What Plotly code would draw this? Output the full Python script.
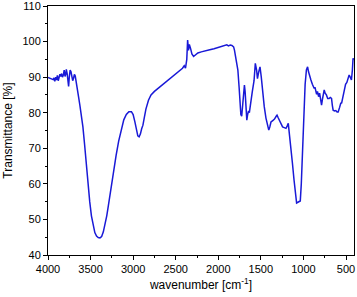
import plotly.graph_objects as go

wavenumber = [4000,3980,3960,3940,3930,3920,3910,3900,3890,3880,3870,3860,3850,3840,3830,3820,3810,3800,3790,3785,3775,3765,3758,3750,3740,3730,3720,3710,3700,3690,3680,3670,3660,3650,3640,3625,3610,3590,3570,3550,3530,3510,3490,3470,3450,3430,3410,3390,3370,3350,3330,3310,3290,3270,3250,3230,3200,3170,3140,3110,3080,3050,3020,3000,2980,2960,2945,2930,2915,2900,2885,2870,2850,2820,2790,2750,2700,2650,2600,2550,2500,2450,2420,2400,2385,2370,2360,2350,2340,2325,2310,2290,2270,2240,2200,2150,2100,2050,2000,1950,1920,1900,1880,1860,1840,1820,1810,1790,1770,1755,1745,1735,1725,1715,1700,1693,1685,1675,1665,1655,1645,1635,1620,1600,1580,1565,1550,1540,1525,1510,1495,1480,1460,1440,1420,1407,1395,1381,1360,1340,1320,1310,1295,1275,1260,1245,1225,1205,1190,1178,1165,1150,1130,1110,1095,1080,1060,1037,1025,1010,995,980,965,951,940,925,912,895,880,873,865,855,845,835,822,810,800,787,775,765,756,745,730,715,698,685,670,660,651,635,620,605,592,575,560,552,540,522,505,490,475,463,450,436,425,417,410,406]

transmittance = [89.9,89.8,89.5,89.3,89.8,88.8,90.0,89.2,90.5,89.0,89.8,90.8,90.2,91.0,90.0,90.6,92.0,90.2,91.0,92.2,91.0,89.5,87.4,90.0,92.0,91.5,90.0,89.0,89.7,90.8,90.3,88.5,87.0,85.5,84.3,82.0,79.8,76.0,71.0,65.0,59.5,55.0,51.0,48.0,46.3,45.3,44.9,44.8,45.2,46.5,48.5,51.0,54.0,57.3,60.8,64.0,68.0,72.0,75.5,78.0,79.5,80.3,80.3,79.5,77.5,75.0,73.5,73.2,74.0,75.5,76.5,78.5,81.0,83.5,85.0,86.0,87.0,88.0,89.0,90.0,90.8,91.8,92.5,93.2,92.5,95.0,100.4,97.5,99.2,98.0,96.5,95.8,96.2,96.8,97.1,97.5,97.7,98.0,98.3,98.7,98.9,99.1,98.8,99.0,98.9,98.5,97.6,95.0,92.0,87.0,82.0,79.5,79.0,81.5,86.5,87.8,86.0,81.0,77.9,79.5,80.5,80.0,83.0,86.0,89.0,93.9,92.0,89.6,91.5,92.9,90.0,86.0,81.7,78.5,76.5,75.1,76.0,77.4,77.8,78.2,79.0,79.3,78.5,77.3,76.5,76.0,75.8,75.6,76.3,77.0,74.0,71.0,66.0,61.0,57.5,54.6,54.9,55.2,60.0,70.0,78.0,88.0,92.0,92.9,91.5,90.0,89.2,88.0,87.2,86.8,87.2,86.0,85.2,86.0,84.5,85.5,83.5,82.1,84.0,86.2,86.4,85.5,85.0,84.0,84.0,84.3,84.0,82.0,80.7,80.5,80.6,80.2,80.2,81.5,82.8,82.6,84.0,86.4,88.0,88.5,90.0,90.6,90.0,89.2,92.0,95.3,95.0,95.2]

fig = go.Figure()
fig.add_trace(go.Scatter(x=wavenumber, y=transmittance, mode="lines",
                         line=dict(color="rgb(25,25,215)", width=1.5),
                         showlegend=False))

axis_common = dict(showline=True, linecolor="black", linewidth=1, mirror=True,
                   ticks="outside", ticklen=4, tickcolor="black", showgrid=False,
                   zeroline=False, tickfont=dict(size=11, color="black"),
                   ticklabeloverflow="allow")

fig.update_xaxes(range=[4000, 406], tickvals=[4000,3500,3000,2500,2000,1500,1000,500],
                 minor=dict(ticks="outside", ticklen=2, dtick=250, tick0=0, tickcolor="black"),
                 title=dict(text="wavenumber [cm<sup>-1</sup>]", font=dict(size=12, color="black"), standoff=6),
                 **axis_common)
fig.update_yaxes(range=[40, 110], dtick=10,
                 minor=dict(ticks="outside", ticklen=2, dtick=5, tickcolor="black"),
                 title=dict(text="Transmittance [%]", font=dict(size=12, color="black"), standoff=7),
                 **axis_common)

fig.update_layout(width=357, height=297, margin=dict(l=48, r=3, t=6, b=42, autoexpand=False),
                  paper_bgcolor="white", plot_bgcolor="white",
                  font=dict(family="Liberation Sans, Arial, sans-serif", color="black"))

fig.write_html("out.html", config={"displayModeBar": False},
               post_script="document.body.style.margin='0';document.body.style.overflow='hidden';")
